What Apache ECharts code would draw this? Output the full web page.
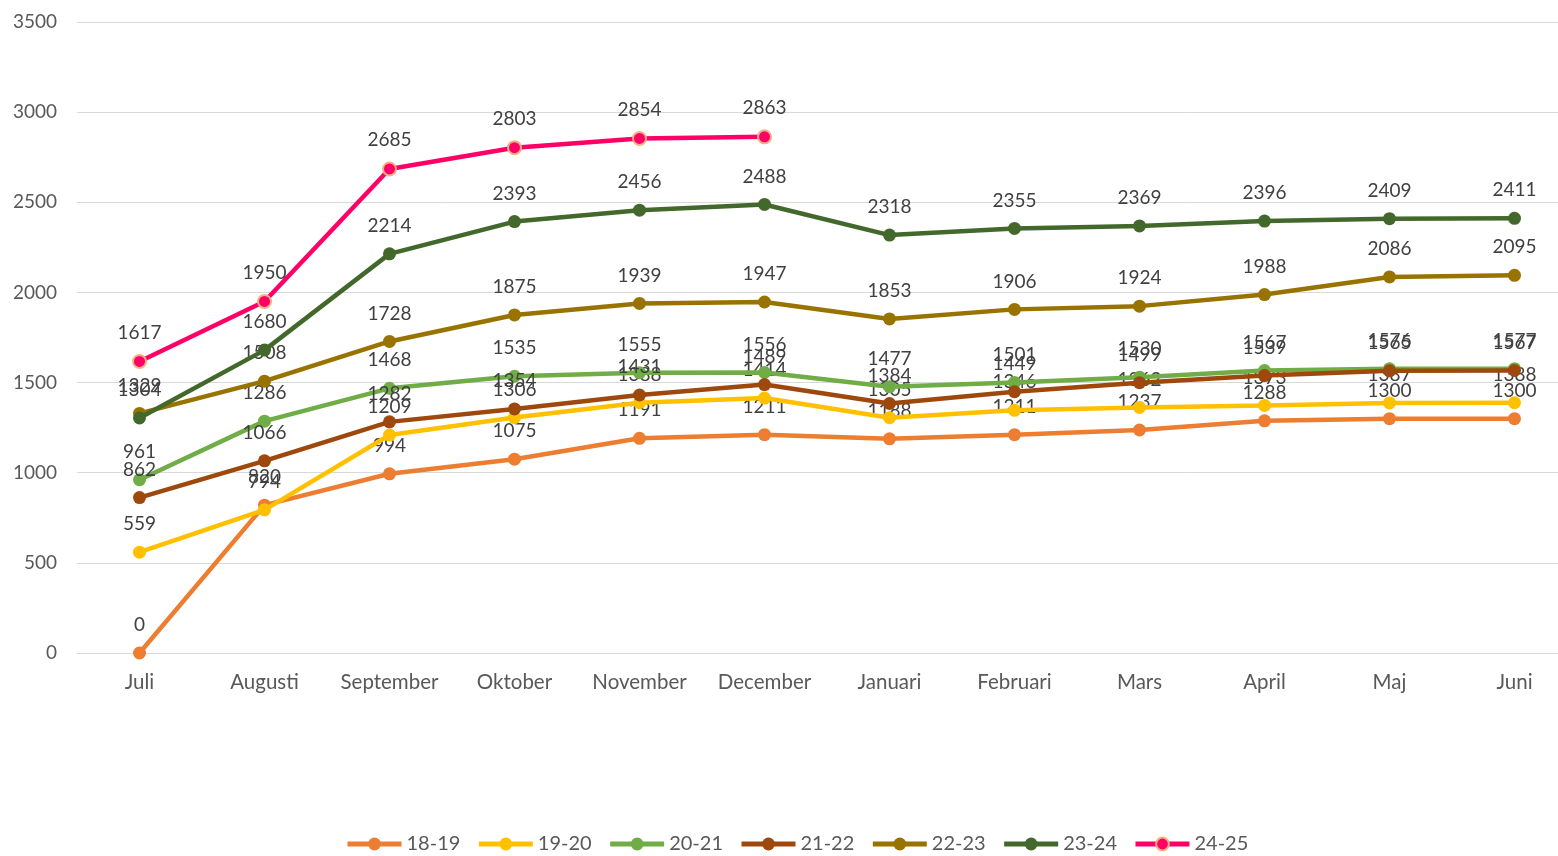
<!DOCTYPE html>
<html><head><meta charset="utf-8">
<script src="https://cdn.jsdelivr.net/npm/echarts@6/dist/echarts.min.js"></script>
<style>html,body{margin:0;padding:0;background:#fff}#c{width:1558px;height:856px}</style>
</head><body><div id="c"></div>
<script>
const categories = ['Juli','Augusti','September','Oktober','November','December','Januari','Februari','Mars','April','Maj','Juni'];
const yTicks = [0,500,1000,1500,2000,2500,3000,3500];
const seriesNames = ['18-19','19-20','20-21','21-22','22-23','23-24','24-25'];
const s1819 = [0,820,994,1075,1191,1211,1188,1211,1237,1288,1300,1300];
const s1920 = [559,794,1209,1306,1388,1414,1305,1346,1362,1373,1387,1388];
const s2021 = [961,1286,1468,1535,1555,1556,1477,1501,1530,1567,1576,1577];
const s2122 = [862,1066,1282,1354,1431,1489,1384,1449,1499,1539,1565,1567];
const s2223 = [1329,1508,1728,1875,1939,1947,1853,1906,1924,1988,2086,2095];
const s2324 = [1304,1680,2214,2393,2456,2488,2318,2355,2369,2396,2409,2411];
const s2425 = [1617,1950,2685,2803,2854,2863];
const colors = ['#ED7D31','#FFC000','#70AD47','#9E480E','#997300','#43682B','#FF0066'];
const allData = [s1819,s1920,s2021,s2122,s2223,s2324,s2425];
const font = 'Lato, "Noto Sans", sans-serif';
const chart = echarts.init(document.getElementById('c'));
chart.setOption({
  animation:false,
  textStyle:{fontFamily:font},
  grid:{left:77,top:22,width:1500,bottom:203,containLabel:false,outerBoundsMode:'none'},
  xAxis:{type:'category',data:categories,boundaryGap:true,
    axisLine:{lineStyle:{color:'#D9D9D9',width:1}},axisTick:{show:false},
    axisLabel:{color:'#595959',fontSize:20.5,fontFamily:font,margin:19,interval:0,hideOverlap:false}},
  yAxis:{type:'value',min:yTicks[0],max:yTicks[yTicks.length-1],interval:500,
    axisLine:{show:false},axisTick:{show:false},
    splitLine:{lineStyle:{color:'#D9D9D9',width:1}},
    axisLabel:{color:'#595959',fontSize:19,fontFamily:font,margin:20,formatter:v=>String(v)}},
  legend:{bottom:-3,left:340,itemWidth:54,itemHeight:16,itemGap:16,
    lineStyle:{width:5},
    textStyle:{color:'#595959',fontSize:20,fontFamily:font},data:seriesNames},
  series: seriesNames.map((n,i)=>({
    name:n,type:'line',data:allData[i],
    lineStyle:{width:4.5,color:colors[i]},
    itemStyle:{color:colors[i],borderColor:i===6?'#F4B183':colors[i],borderWidth:i===6?2:0},
    symbol:'circle',symbolSize:13,
    label:{show:true,position:'top',distance:12,color:'#404040',fontSize:19,fontFamily:font},
    z:2+i
  }))
});
</script></body></html>
